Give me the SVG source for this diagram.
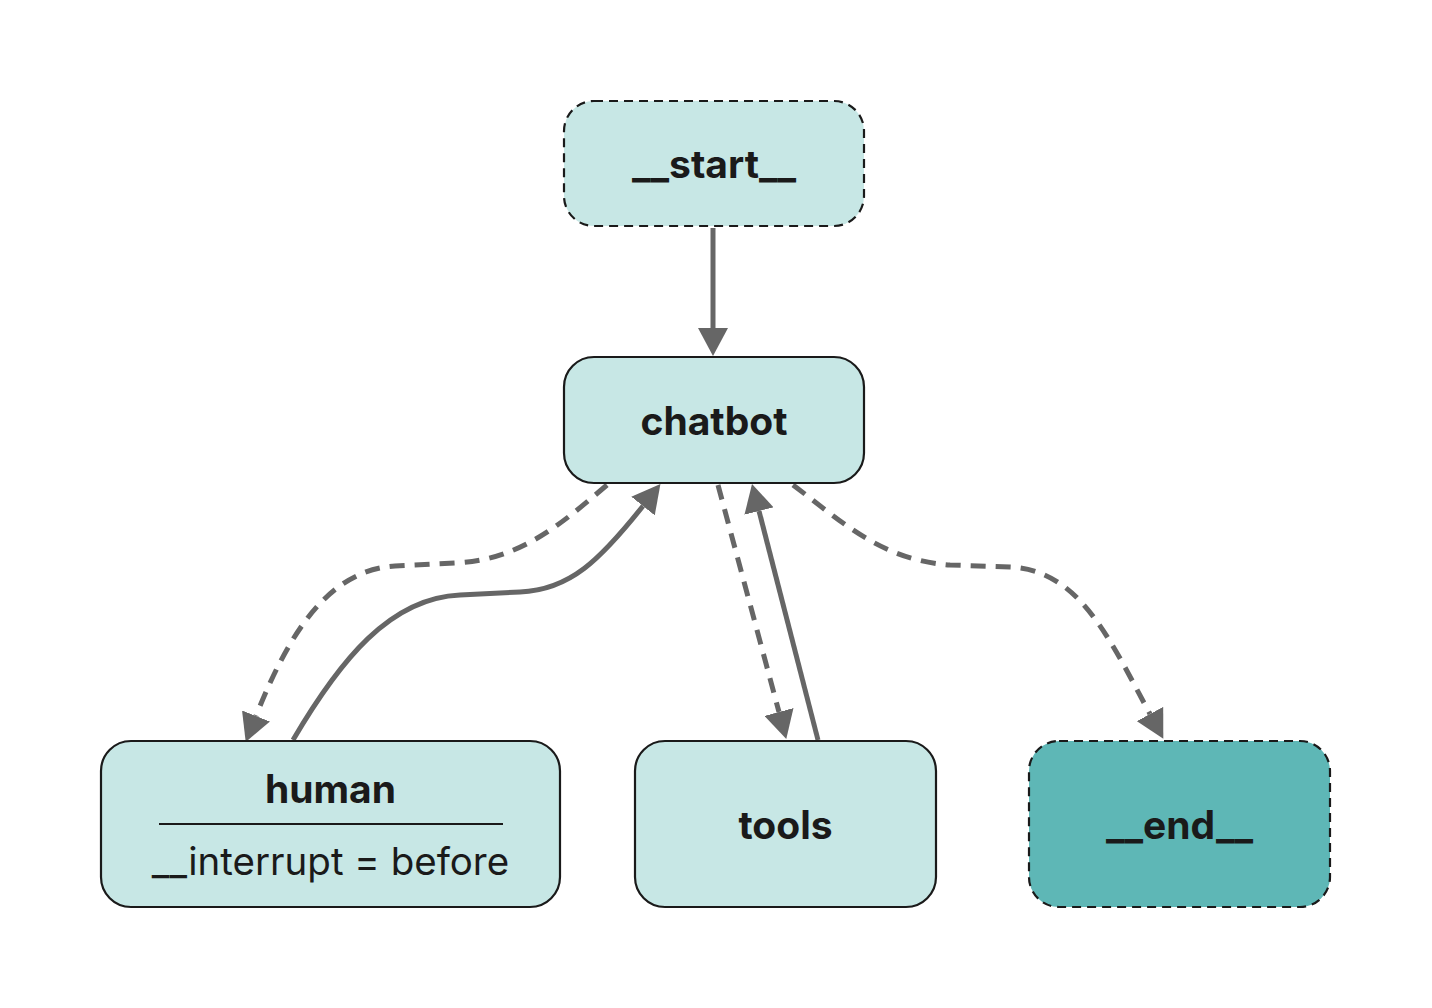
<svg xmlns="http://www.w3.org/2000/svg" width="1432" height="1008" viewBox="0 0 1432 1008">
<style>
.node rect{fill:#c7e7e5;stroke:#1a1a1a;stroke-width:2.2}
.dash rect{stroke-dasharray:9,6}
.endn rect{fill:#5eb7b6}
text{font-family:Inter,"Noto Sans","Liberation Sans",sans-serif;fill:#1a1a1a;text-anchor:middle}
.b{font-weight:700;font-size:39px}
.r{font-weight:400;font-size:38.5px}
.edge{fill:none;stroke:#666;stroke-width:5}
.ed{stroke-dasharray:15,10}
</style>
<defs>
<marker id="ah" viewBox="0 0 28 30" refX="0" refY="15" markerWidth="28" markerHeight="30" markerUnits="userSpaceOnUse" orient="auto">
<path d="M0,0 L28,15 L0,30 z" fill="#666"/>
</marker>
</defs>
<g id="edges">
<path class="edge" d="M713,228 L713,328" marker-end="url(#ah)"/>
<path class="edge ed" d="M607,485 C560,525 520,560 455,563 L395,566 C330,570 290,630 256,716" marker-end="url(#ah)"/>
<path class="edge" d="M293,740 C340,660 390,598 460,595 L520,592 C570,590 600,560 643,506" marker-end="url(#ah)"/>
<path class="edge ed" d="M718,485 L779,712" marker-end="url(#ah)"/>
<path class="edge" d="M818,740 L759,511" marker-end="url(#ah)"/>
<path class="edge ed" d="M793,485 C840,520 880,560 950,565 L1010,567 C1080,570 1110,640 1150,714" marker-end="url(#ah)"/>
</g>
<g id="start" class="node dash">
<rect x="564" y="101" width="300" height="125" rx="30"/>
<text class="b" x="714" y="178">__start__</text>
</g>
<g id="chatbot" class="node">
<rect x="564" y="357" width="300" height="126" rx="30"/>
<text class="b" x="714" y="435">chatbot</text>
</g>
<g id="human" class="node">
<rect x="101" y="741" width="459" height="166" rx="30"/>
<text class="b" x="330.5" y="803">human</text>
<line x1="159" y1="824" x2="503" y2="824" stroke="#1a1a1a" stroke-width="2"/>
<text class="r" x="330.5" y="875">__interrupt = before</text>
</g>
<g id="tools" class="node">
<rect x="635" y="741" width="301" height="166" rx="30"/>
<text class="b" x="785.5" y="839">tools</text>
</g>
<g id="end" class="node dash endn">
<rect x="1029" y="741" width="301" height="166" rx="30"/>
<text class="b" x="1179.5" y="839">__end__</text>
</g>
</svg>
